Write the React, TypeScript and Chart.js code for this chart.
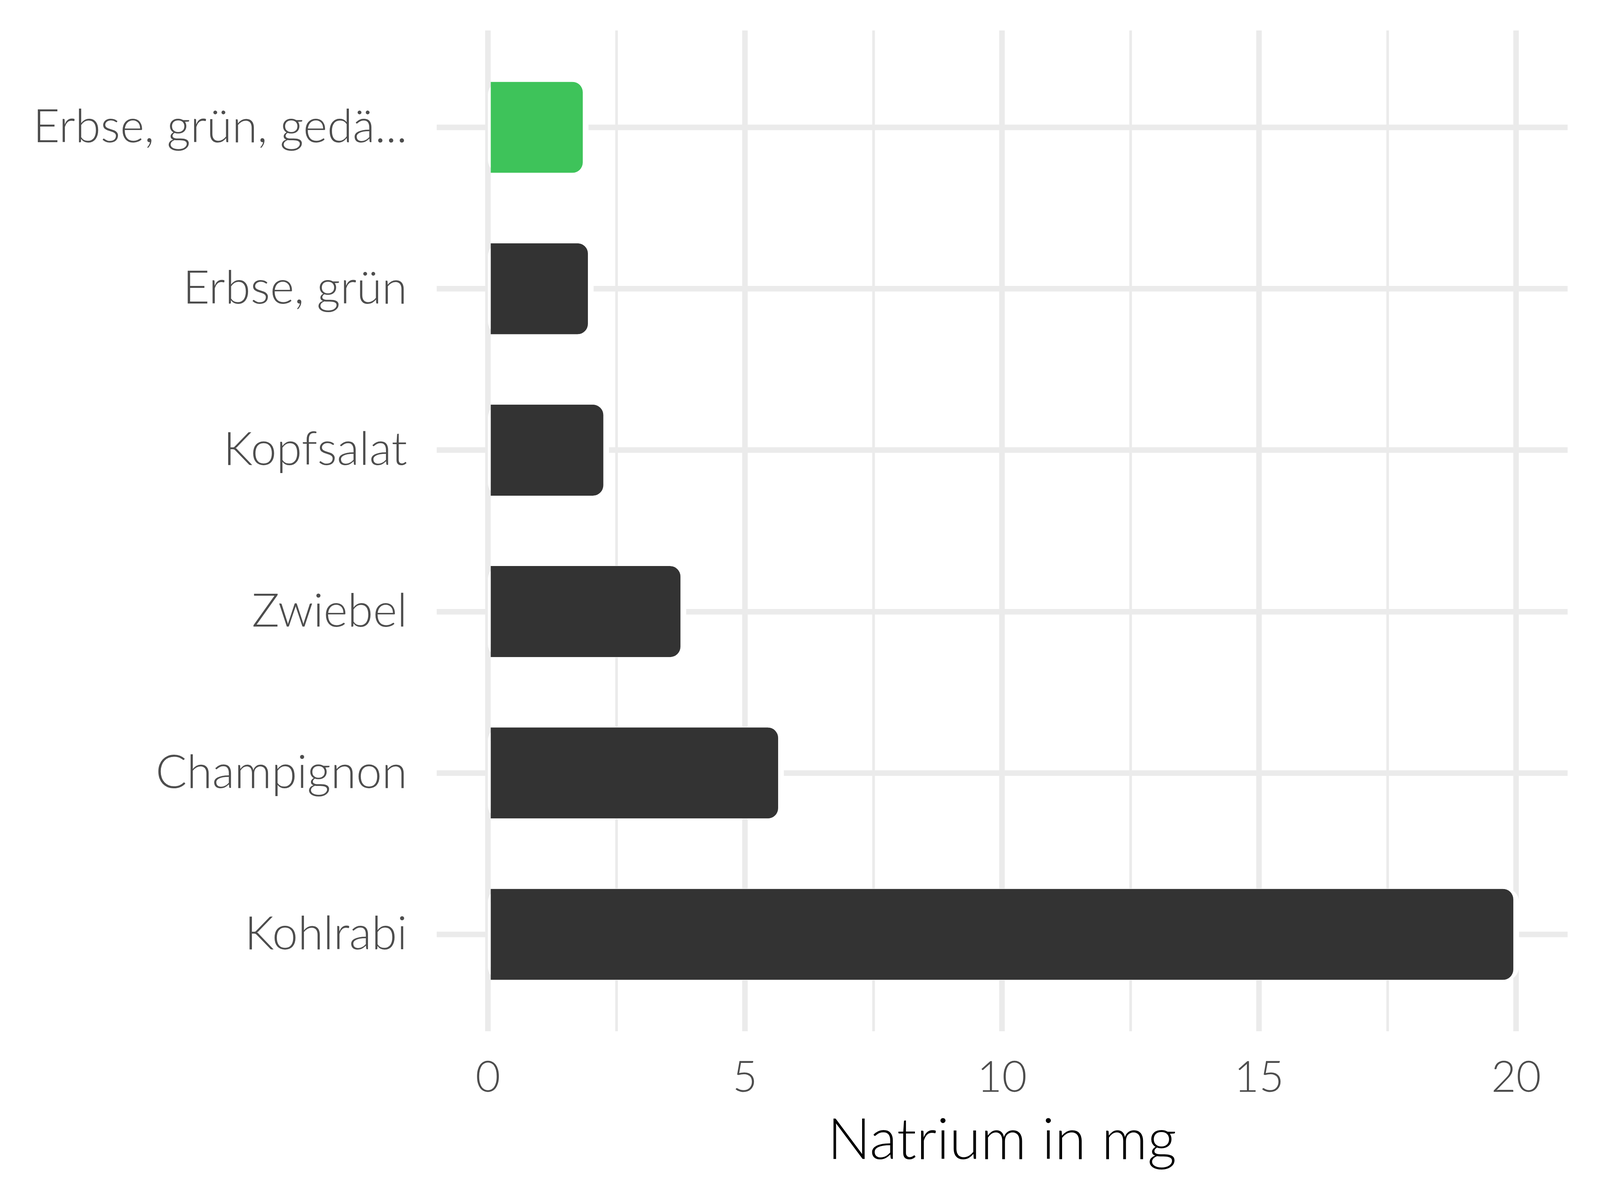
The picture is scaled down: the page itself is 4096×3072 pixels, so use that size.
import React, { useEffect, useRef } from "react";
import { Chart, registerables } from "chart.js";

Chart.register(...registerables);

const categories = ["Erbse, grün, gedä...", "Erbse, grün", "Kopfsalat", "Zwiebel", "Champignon", "Kohlrabi"];
const values = [1.9, 2.0, 2.3, 3.8, 5.7, 20];
const barColors = ["#3EC35A", "#333333", "#333333", "#333333", "#333333", "#333333"];
const xTicks = [0, 2.5, 5, 7.5, 10, 12.5, 15, 17.5, 20];
const xTitle = "Natrium in mg";

const W = 4096;
const H = 3072;
const FONT = "Lato";
const GRID = "#ebebeb";
const OUTLINE = 7.3;

const outlinePlugin = {
  id: "barOutline",
  beforeDatasetsDraw(chart: any) {
    const ctx = chart.ctx;
    const meta = chart.getDatasetMeta(0);
    ctx.save();
    ctx.fillStyle = "#ffffff";
    meta.data.forEach((bar: any) => {
      const p = bar.getProps(["x", "y", "base", "height"], true);
      const left = Math.min(p.base, p.x) - OUTLINE;
      const right = Math.max(p.base, p.x) + OUTLINE;
      const top = p.y - p.height / 2 - 1;
      ctx.beginPath();
      ctx.roundRect(left, top, right - left, p.height + 2, 34);
      ctx.fill();
    });
    ctx.restore();
  },
};

export default function App() {
  const ref = useRef<HTMLCanvasElement | null>(null);

  useEffect(() => {
    if (!ref.current) return;
    const chart = new Chart(ref.current, {
      type: "bar",
      data: {
        datasets: [
          {
            data: values.map((v, i) => ({ x: v, y: i + 1 })),
            backgroundColor: barColors,
            borderColor: "#ffffff",
            borderWidth: { left: 0, top: 0, bottom: 0, right: OUTLINE },
            borderRadius: 34,
            borderSkipped: "start",
            barPercentage: 0.564,
            categoryPercentage: 1,
          } as any,
        ],
      },
      plugins: [outlinePlugin as any],
      options: {
        indexAxis: "y",
        animation: false,
        responsive: false,
        maintainAspectRatio: false,
        layout: { padding: { top: 78, right: 83, left: 0, bottom: 0 } },
        plugins: {
          legend: { display: false },
          tooltip: { enabled: false },
          title: { display: false },
        },
        scales: {
          y: {
            type: "linear",
            min: 0.4,
            max: 6.6,
            reverse: true,
            offset: false,
            afterBuildTicks: (s: any) => {
              s.ticks = categories.map((_, i) => ({ value: i + 1 }));
            },
            afterFit: (s: any) => {
              s.width = 1117.5;
              s.paddingTop = 0;
              s.paddingBottom = 0;
            },
            ticks: {
              callback: (v: any) => categories[Math.round(v) - 1] ?? "",
              padding: 75,
              color: "#4d4d4d",
              font: { family: FONT, size: 118, weight: 300 },
              autoSkip: false,
            },
            grid: { color: GRID, lineWidth: 14.2, drawTicks: false, offset: false },
            border: { display: false },
          },
          x: {
            type: "linear",
            min: -1,
            max: 21,
            afterBuildTicks: (s: any) => {
              s.ticks = xTicks.map((v) => ({ value: v }));
            },
            afterFit: (s: any) => {
              s.height = H - 2640;
              s.paddingLeft = 0;
              s.paddingRight = 0;
            },
            ticks: {
              callback: (v: any) => (Number(v) % 5 === 0 ? String(v) : ""),
              padding: 54,
              color: "#4d4d4d",
              font: { family: FONT, size: 110, weight: 300 },
              maxRotation: 0,
              autoSkip: false,
            },
            grid: {
              color: GRID,
              lineWidth: (c: any) => (c.tick && Number(c.tick.value) % 5 === 0 ? 14.2 : 6.8),
              drawTicks: false,
            },
            border: { display: false },
            title: {
              display: true,
              text: xTitle,
              color: "#000000",
              font: { family: FONT, size: 146, weight: 300 },
              padding: { top: 0, bottom: 64 },
            },
          },
        },
      } as any,
    });
    return () => chart.destroy();
  }, []);

  return (
    <div style={{ position: "fixed", left: 0, top: 0, width: W, height: H, background: "#ffffff" }}>
      <canvas ref={ref} width={W} height={H} style={{ width: W, height: H, display: "block" }} />
    </div>
  );
}
